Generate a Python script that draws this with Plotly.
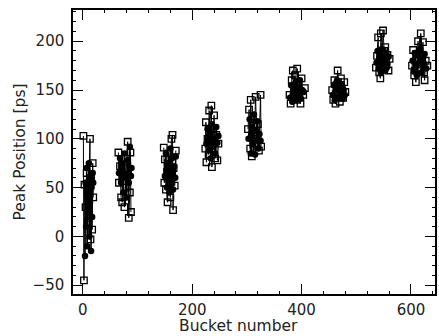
import plotly.graph_objects as go

# Bucket number / peak position [ps] per bunch-train cluster
sq_clusters = [
    [(1,103),(2,-45),(3,53),(5,30),(7,65),(9,15),(11,45),(13,100),(14,-3),(15,60),(17,7),(18,75),(19,40)],
    [(65,86),(66,55),(68,72),(70,40),(72,35),(74,62),(76,30),(78,50),(80,70),(82,97),(84,19),(86,45),(87,86),(88,25)],
    [(148,91),(149,55),(150,79),(152,48),(154,66),(155,35),(157,85),(159,60),(160,40),(162,100),(164,104),(165,27),(166,70),(168,52),(170,88)],
    [(224,90),(225,117),(226,76),(228,100),(230,84),(231,129),(233,96),(235,134),(236,71),(238,110),(240,124),(242,80),(244,104),(246,78),(248,95)],
    [(302,110),(304,130),(306,90),(307,140),(309,82),(311,120),(313,100),(316,143),(318,95),(320,115),(322,88),(325,145),(326,92)],
    [(378,145),(380,136),(382,160),(384,170),(386,150),(388,165),(390,140),(392,172),(394,155),(396,148),(398,136),(400,162),(403,145),(406,152)],
    [(456,150),(458,140),(460,160),(462,136),(464,155),(466,170),(468,145),(470,138),(472,162),(474,150),(476,142),(478,158),(480,148)],
    [(536,173),(538,185),(540,204),(542,168),(544,162),(545,208),(547,180),(549,211),(551,190),(553,194),(555,175),(557,186),(559,170),(561,182)],
    [(602,175),(604,191),(606,165),(607,170),(609,158),(611,182),(613,200),(615,172),(618,208),(620,185),(622,199),(624,168),(625,160),(627,180),(630,175)],
]
ci_clusters = [
    [(4,-20),(5,55),(6,10),(7,70),(8,-10),(9,45),(10,25),(11,75),(12,0),(13,35),(14,60),(15,-15),(16,50),(17,20),(18,65),(19,55)],
    [(66,65),(68,80),(70,55),(72,75),(74,45),(76,85),(78,60),(80,40),(82,78),(84,55),(86,92),(88,62),(89,70)],
    [(150,62),(152,85),(154,50),(156,75),(158,45),(160,90),(162,58),(163,80),(165,48),(167,72),(169,60),(170,82)],
    [(226,95),(228,110),(230,88),(232,105),(234,80),(236,115),(238,92),(240,100),(242,85),(244,112),(246,96),(248,103)],
    [(303,100),(305,120),(307,85),(309,112),(311,95),(313,125),(315,84),(317,108),(319,118),(321,90),(323,105),(325,98)],
    [(379,142),(381,155),(383,138),(385,150),(387,145),(389,158),(391,140),(393,152),(395,146),(397,160),(399,141),(401,150),(404,148)],
    [(457,145),(459,155),(461,140),(463,150),(465,160),(467,143),(469,152),(471,147),(473,156),(475,141),(477,150),(479,145)],
    [(537,178),(539,190),(541,172),(543,185),(545,168),(547,192),(549,176),(551,183),(553,170),(555,188),(557,177),(559,184)],
    [(603,180),(605,170),(607,188),(609,175),(611,165),(613,185),(615,178),(617,192),(619,168),(621,182),(623,174),(625,187),(628,172)],
]
x_ticks = [0, 200, 400, 600]
y_ticks = [-50, 0, 50, 100, 150, 200]


def flatten(clusters):
    xs, ys = [], []
    for c in clusters:
        for x, y in c:
            xs.append(x)
            ys.append(y)
        xs.append(None)
        ys.append(None)
    return xs, ys


sx, sy = flatten(sq_clusters)
cx, cy = flatten(ci_clusters)

fig = go.Figure()
fig.add_trace(go.Scatter(x=cx, y=cy, mode="lines+markers", connectgaps=False,
                         line=dict(color="black", width=1.5),
                         marker=dict(symbol="circle", size=6.5, color="black"),
                         showlegend=False))
fig.add_trace(go.Scatter(x=sx, y=sy, mode="lines+markers", connectgaps=False,
                         line=dict(color="black", width=1),
                         marker=dict(symbol="square-open", size=6.5, color="black",
                                     line=dict(width=1.3)),
                         showlegend=False))

tick_font = dict(family="DejaVu Sans", size=15, color="#222")
axis_common = dict(showgrid=False, zeroline=False, showline=True, linecolor="black",
                   linewidth=1.5, mirror="allticks", ticks="inside", tickcolor="black",
                   tickwidth=1, ticklen=10, tickfont=tick_font)

fig.update_xaxes(range=[-18, 644], tickvals=x_ticks, ticklabelstandoff=1,
                 minor=dict(dtick=40, tick0=0, ticks="inside", ticklen=3, tickcolor="black"),
                 **axis_common)
fig.update_yaxes(range=[-59, 232], tickvals=y_ticks, ticklabelstandoff=4,
                 minor=dict(dtick=10, tick0=0, ticks="inside", ticklen=3, tickcolor="black"),
                 title=dict(text="Peak Position [ps]",
                            font=dict(family="DejaVu Sans", size=15.5, color="#222"),
                            standoff=3),
                 **axis_common)

fig.add_annotation(text="Bucket number", xref="paper", yref="paper",
                   x=0.456, y=-0.113, xanchor="center", yanchor="middle",
                   showarrow=False,
                   font=dict(family="DejaVu Sans", size=15.5, color="#222"))

fig.update_layout(width=439, height=336, margin=dict(l=73, r=2, t=10, b=42),
                  plot_bgcolor="white", paper_bgcolor="white")

fig.write_html("out.html")
